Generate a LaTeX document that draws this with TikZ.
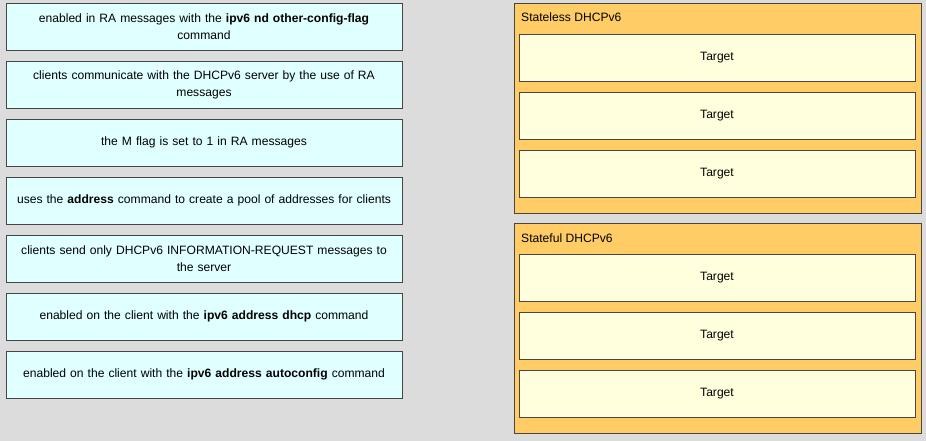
\documentclass[tikz,border=0pt]{standalone}
\usepackage{fontspec}
\setmainfont{Liberation Sans}
\usepackage{tikz}
\definecolor{panelgray}{RGB}{220,220,220}
\definecolor{itemcyan}{RGB}{224,255,255}
\definecolor{zoneorange}{RGB}{255,204,102}
\definecolor{targetyellow}{RGB}{255,255,221}
\definecolor{edgegray}{RGB}{70,70,70}

\tikzset{
  itembox/.style={draw=edgegray,fill=itemcyan,minimum width=396pt,minimum height=47pt,
    text width=392pt,align=center,inner sep=0pt,font=\fontsize{12.1}{17}\selectfont},
  zonebox/.style={draw=edgegray,fill=zoneorange,minimum width=407pt,minimum height=210pt,inner sep=0pt},
  targetbox/.style={draw=edgegray,fill=targetyellow,minimum width=396pt,minimum height=47pt,
    inner sep=0pt,font=\fontsize{12.1}{14}\selectfont},
  zonelabel/.style={anchor=west,inner sep=0pt,font=\fontsize{12.1}{14}\selectfont}
}

\begin{document}
\begin{tikzpicture}[x=1pt,y=-1pt]
  \fill[panelgray] (0,0) rectangle (926,441);
  \useasboundingbox (0,0) rectangle (926,441);

  \node[itembox] (i1) at (204,26.5) {enabled in RA messages with the \textbf{ipv6 nd other-config-flag}\\command};
  \node[itembox] (i2) at (204,84.5) {clients communicate with the DHCPv6 server by the use of RA\\messages};
  \node[itembox] (i3) at (204,142.5) {the M flag is set to 1 in RA messages};
  \node[itembox] (i4) at (204,200.5) {uses the \textbf{address} command to create a pool of addresses for clients};
  \node[itembox] (i5) at (204,258.5) {clients send only DHCPv6 INFORMATION-REQUEST messages to\\the server};
  \node[itembox] (i6) at (204,316.5) {enabled on the client with the \textbf{ipv6 address dhcp} command};
  \node[itembox] (i7) at (204,374.5) {enabled on the client with the \textbf{ipv6 address autoconfig} command};

  % stateless zone
  \node[zonebox] (stateless) at (717.5,108) {};
  \node[zonelabel] (statelesslbl) at (521,17) {Stateless DHCPv6};
  \foreach \n/\y in {1/57.5,2/115.5,3/173.5}
    \node[targetbox] (sl\n) at (717,\y) {Target};

  % stateful zone
  \node[zonebox] (stateful) at (717.5,328) {};
  \node[zonelabel] (statefullbl) at (521,238) {Stateful DHCPv6};
  \foreach \n/\y in {1/277.5,2/335.5,3/393.5}
    \node[targetbox] (sf\n) at (717,\y) {Target};
\end{tikzpicture}
\end{document}
